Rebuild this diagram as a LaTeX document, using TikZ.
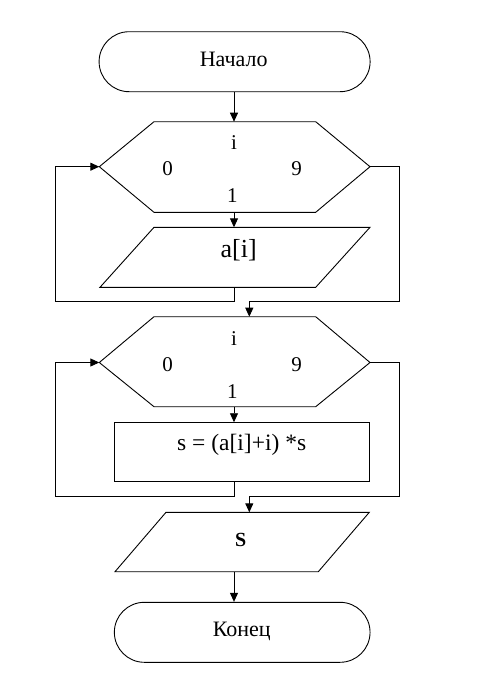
\documentclass[tikz,border=0pt]{standalone}
\usepackage{fontspec}
\setmainfont{Liberation Serif}
\usetikzlibrary{arrows.meta}
\begin{document}
\begin{tikzpicture}[x=1pt,y=-1pt,
  term/.style={draw, line width=0.9pt, rounded corners=30pt, minimum height=60pt, inner sep=0pt},
  box/.style={draw, line width=0.9pt, rectangle, inner sep=0pt},
  outline/.style={draw, line width=0.9pt},
  lbl/.style={inner sep=0pt, anchor=base},
  conn/.style={line width=0.9pt, -{Triangle[length=9pt,width=8pt]}},
  wire/.style={line width=0.9pt}
]
\useasboundingbox[fill=white] (0,0) rectangle (479,686);

% start / end / process
\node[term, minimum width=271pt] (start) at (234.6,61.7) {};
\node[box, minimum width=255pt, minimum height=59pt] (proc) at (241.8,452.2) {};
\node[term, minimum width=255.7pt] (finish) at (242.2,632.3) {};

% hexagon 1
\coordinate (h1tl) at (154,121.7);
\coordinate (h1tr) at (315.7,121.7);
\coordinate (h1r) at (370,166.7);
\coordinate (h1br) at (315.7,212.3);
\coordinate (h1bl) at (154,212.3);
\coordinate (h1l) at (99.3,166.7);
\coordinate (h1t) at (234,121.7);
\coordinate (h1b) at (234,212.3);
\draw[outline] (h1tl) -- (h1tr) -- (h1r) -- (h1br) -- (h1bl) -- (h1l) -- cycle;

% parallelogram 1
\coordinate (p1tl) at (154,227.3);
\coordinate (p1tr) at (370,227.3);
\coordinate (p1br) at (315.7,287.3);
\coordinate (p1bl) at (100,287.3);
\coordinate (p1t) at (234,227.3);
\coordinate (p1b) at (234,287.3);
\draw[outline] (p1tl) -- (p1tr) -- (p1br) -- (p1bl) -- cycle;

% hexagon 2
\coordinate (h2tl) at (154,316.7);
\coordinate (h2tr) at (315.7,316.7);
\coordinate (h2r) at (370,362.5);
\coordinate (h2br) at (315.7,406.7);
\coordinate (h2bl) at (154,406.7);
\coordinate (h2l) at (99.3,362.5);
\coordinate (h2t) at (249.3,316.7);
\coordinate (h2b) at (234,406.7);
\draw[outline] (h2tl) -- (h2tr) -- (h2r) -- (h2br) -- (h2bl) -- (h2l) -- cycle;

% parallelogram 2
\coordinate (p2tl) at (166,512.3);
\coordinate (p2tr) at (369.3,512.3);
\coordinate (p2br) at (318.3,571.7);
\coordinate (p2bl) at (115,571.7);
\coordinate (p2t) at (249.3,512.3);
\coordinate (p2b) at (234,571.7);
\draw[outline] (p2tl) -- (p2tr) -- (p2br) -- (p2bl) -- cycle;

% loop corner coordinates
\coordinate (a1) at (234,301.7);
\coordinate (a2) at (55,301.7);
\coordinate (a3) at (55,166.7);
\coordinate (b1) at (399.3,166.7);
\coordinate (b2) at (399.3,301.7);
\coordinate (b3) at (249.3,301.7);
\coordinate (c1) at (234,496.7);
\coordinate (c2) at (55,496.7);
\coordinate (c3) at (55,362.5);
\coordinate (d1) at (399.3,362.5);
\coordinate (d2) at (399.3,496.7);
\coordinate (d3) at (249.3,496.7);

% connectors
\draw[conn] (start.south -| h1t) -- (h1t);
\draw[conn] (h1b) -- (p1t);
\draw[conn] (p1b) -- (a1) -- (a2) -- (a3) -- (h1l);
\draw[conn] (h1r) -- (b1) -- (b2) -- (b3) -- (h2t);
\draw[conn] (h2b) -- (proc.north -| h2b);
\draw[conn] (proc.south -| c1) -- (c1) -- (c2) -- (c3) -- (h2l);
\draw[conn] (h2r) -- (d1) -- (d2) -- (d3) -- (p2t);
\draw[conn] (p2b) -- (finish.north -| p2b);

% texts
\node[lbl, font=\fontsize{22}{26}\selectfont] (tstart) at (233.7,66.7) {Начало};
\node[lbl, font=\fontsize{21}{25}\selectfont] (h1i) at (234,149.3) {i};
\node[lbl, font=\fontsize{21}{25}\selectfont] (h1a) at (167.7,175.7) {0};
\node[lbl, font=\fontsize{21}{25}\selectfont] (h1z) at (296.7,175.7) {9};
\node[lbl, font=\fontsize{21}{25}\selectfont] (h1s) at (232.3,202.7) {1};
\node[lbl, font=\fontsize{26}{30}\selectfont] (tin) at (238.7,257.7) {a[i]};
\node[lbl, font=\fontsize{21}{25}\selectfont] (h2i) at (234,345) {i};
\node[lbl, font=\fontsize{21}{25}\selectfont] (h2a) at (167.7,371.3) {0};
\node[lbl, font=\fontsize{21}{25}\selectfont] (h2z) at (296.7,371.3) {9};
\node[lbl, font=\fontsize{21}{25}\selectfont] (h2s) at (232.3,398) {1};
\node[lbl, font=\fontsize{23.5}{28}\selectfont] (tproc) at (241.7,450) {s = (a[i]+i) *s};
\node[lbl, font=\fontsize{20}{24}\selectfont\bfseries] (tout) at (240.7,546) {S};
\node[lbl, font=\fontsize{22}{26}\selectfont] (tend) at (241.7,636) {Конец};
\end{tikzpicture}
\end{document}
